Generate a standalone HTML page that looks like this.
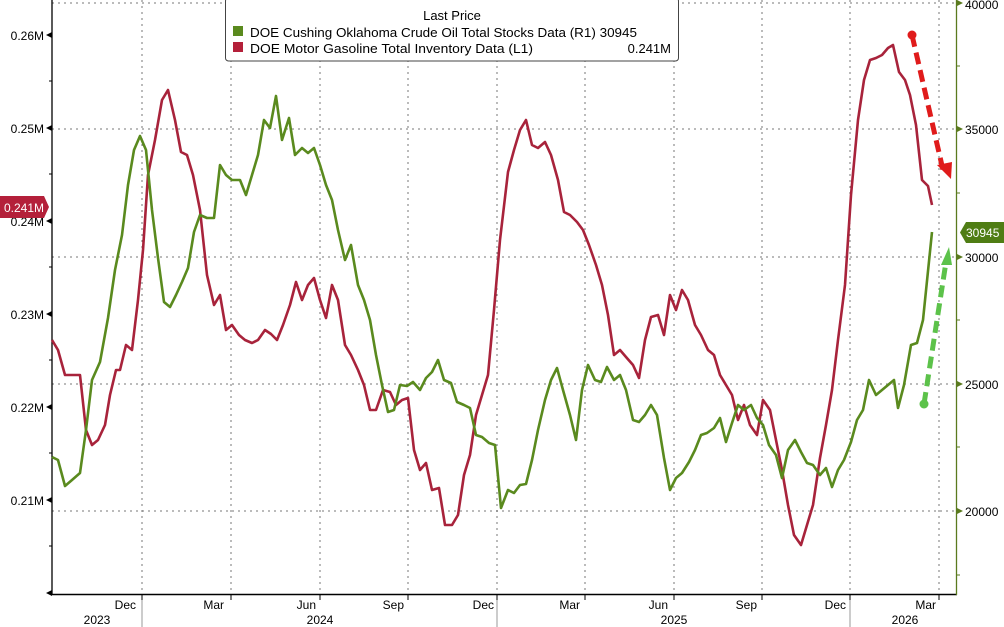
<!DOCTYPE html>
<html><head><meta charset="utf-8"><style>
html,body{margin:0;padding:0;background:#fff;}
svg{display:block;font-family:"Liberation Sans",sans-serif;}
</style></head><body>
<svg width="1004" height="627" viewBox="0 0 1004 627" xmlns="http://www.w3.org/2000/svg">
<rect width="1004" height="627" fill="#fff"/>
<g stroke="#777" stroke-width="1" stroke-dasharray="2,4">
<line x1="52" y1="3" x2="956" y2="3"/>
<line x1="52" y1="129" x2="956" y2="129"/>
<line x1="52" y1="257" x2="956" y2="257"/>
<line x1="52" y1="384" x2="956" y2="384"/>
<line x1="52" y1="511" x2="956" y2="511"/>
<line x1="142" y1="0" x2="142" y2="594"/><line x1="231" y1="0" x2="231" y2="594"/>
<line x1="320" y1="0" x2="320" y2="594"/><line x1="408" y1="0" x2="408" y2="594"/>
<line x1="497" y1="0" x2="497" y2="594"/><line x1="585" y1="0" x2="585" y2="594"/>
<line x1="674" y1="0" x2="674" y2="594"/><line x1="762" y1="0" x2="762" y2="594"/>
<line x1="850" y1="0" x2="850" y2="594"/><line x1="939" y1="0" x2="939" y2="594"/>
</g>
<line x1="52" y1="0" x2="52" y2="595" stroke="#000" stroke-width="1.3"/>
<line x1="52" y1="594.5" x2="957" y2="594.5" stroke="#000" stroke-width="1.5"/>
<line x1="956.5" y1="0" x2="956.5" y2="595" stroke="#5a7a1e" stroke-width="1.3"/>
<g fill="#000" font-size="12">
<path d="M46,35 l6,-3 v6z"/><text x="44" y="40" text-anchor="end">0.26M</text>
<path d="M46,128 l6,-3 v6z"/><text x="44" y="133" text-anchor="end">0.25M</text>
<path d="M46,221 l6,-3 v6z"/><text x="44" y="226" text-anchor="end">0.24M</text>
<path d="M46,314 l6,-3 v6z"/><text x="44" y="319" text-anchor="end">0.23M</text>
<path d="M46,407 l6,-3 v6z"/><text x="44" y="412" text-anchor="end">0.22M</text>
<path d="M46,500 l6,-3 v6z"/><text x="44" y="505" text-anchor="end">0.21M</text>
<path d="M46,593 l6,-3 v6z"/>
</g>
<g stroke="#000"><line x1="49" y1="81" x2="52" y2="81"/><line x1="49" y1="174" x2="52" y2="174"/><line x1="49" y1="267" x2="52" y2="267"/><line x1="49" y1="360" x2="52" y2="360"/><line x1="49" y1="453" x2="52" y2="453"/><line x1="49" y1="546" x2="52" y2="546"/></g>
<g fill="#5a7a1e"><path d="M963,3 l-6,-3 v6z"/><path d="M963,129 l-6,-3 v6z"/><path d="M963,257 l-6,-3 v6z"/><path d="M963,384 l-6,-3 v6z"/><path d="M963,511 l-6,-3 v6z"/></g>
<g stroke="#5a7a1e"><line x1="956" y1="66" x2="960" y2="66"/><line x1="956" y1="193" x2="960" y2="193"/><line x1="956" y1="320" x2="960" y2="320"/><line x1="956" y1="447" x2="960" y2="447"/><line x1="956" y1="575" x2="960" y2="575"/></g>
<g fill="#000" font-size="12">
<text x="965" y="9">40000</text><text x="965" y="134">35000</text><text x="965" y="262">30000</text>
<text x="965" y="389">25000</text><text x="965" y="516">20000</text>
</g>
<g stroke="#000"><line x1="142" y1="594" x2="142" y2="600"/><line x1="231" y1="594" x2="231" y2="600"/><line x1="320" y1="594" x2="320" y2="600"/><line x1="408" y1="594" x2="408" y2="600"/><line x1="497" y1="594" x2="497" y2="600"/><line x1="585" y1="594" x2="585" y2="600"/><line x1="674" y1="594" x2="674" y2="600"/><line x1="762" y1="594" x2="762" y2="600"/><line x1="850" y1="594" x2="850" y2="600"/><line x1="939" y1="594" x2="939" y2="600"/>
<line x1="142" y1="600" x2="142" y2="627" stroke="#999"/><line x1="497" y1="600" x2="497" y2="627" stroke="#999"/><line x1="850" y1="600" x2="850" y2="627" stroke="#999"/></g>
<g fill="#000" font-size="12" text-anchor="end">
<text x="136" y="609">Dec</text><text x="224" y="609">Mar</text><text x="316" y="609">Jun</text><text x="404" y="609">Sep</text><text x="494" y="609">Dec</text><text x="580" y="609">Mar</text><text x="668" y="609">Jun</text><text x="757" y="609">Sep</text><text x="846" y="609">Dec</text><text x="936" y="609">Mar</text>
</g>
<g fill="#000" font-size="12" text-anchor="middle">
<text x="97" y="624">2023</text><text x="320" y="624">2024</text><text x="674" y="624">2025</text><text x="905" y="624">2026</text>
</g>
<polyline fill="none" stroke="#a8233b" stroke-width="2.6" stroke-linejoin="round" points="52,340 58,350 65,375 72,375 80,375 86,430 92,445 98,440 105,425 110,395 116,370 120,370 126,345 132,350 138,300 143,250 148,175 155,140 162,100 168,90 175,120 181,152 187,155 193,175 200,210 207,275 214,305 220,295 226,330 232,325 239,335 245,340 252,343 258,340 265,330 271,334 277,340 283,325 290,305 296,282 302,300 308,285 314,278 320,300 326,318 332,285 338,300 345,345 351,355 358,370 364,385 370,410 376,410 383,390 390,392 396,405 402,400 408,398 414,450 420,470 426,463 432,490 439,488 445,525 452,525 458,515 464,475 470,455 476,415 482,395 488,375 494,310 500,240 508,172 514,150 520,130 526,120 532,145 538,148 545,142 551,155 558,180 564,212 570,215 577,222 583,230 589,245 596,265 602,285 608,315 614,355 620,350 626,357 633,365 639,378 645,340 651,317 658,315 664,335 670,295 676,310 682,290 688,300 695,325 701,335 708,350 714,355 720,375 726,385 732,395 738,420 744,405 750,425 757,435 763,400 770,410 776,440 782,470 788,505 794,535 801,545 807,525 813,505 820,458 826,425 832,390 838,340 845,285 851,195 858,120 864,80 870,60 876,58 882,55 888,48 893,45 899,72 905,80 910,95 916,125 922,180 928,186 932,205"/>
<polyline fill="none" stroke="#5a8a1e" stroke-width="2.6" stroke-linejoin="round" points="52,457 58,460 65,486 72,480 80,473 86,430 92,380 100,362 108,318 115,270 122,235 128,185 134,150 140,136 146,150 152,210 158,258 164,302 170,307 176,295 182,282 188,268 194,232 200,215 207,218 214,218 220,165 226,175 232,180 240,180 246,195 252,175 258,155 264,120 270,128 276,96 282,140 289,118 295,155 302,148 308,153 314,148 320,165 326,185 332,200 338,230 345,260 351,245 358,285 364,300 370,320 376,355 382,385 388,412 394,410 400,385 407,386 413,382 420,390 426,378 432,372 438,360 444,380 451,383 457,402 464,405 470,408 476,435 482,437 489,443 495,445 501,508 508,490 514,493 520,485 526,484 532,460 538,430 545,400 551,380 557,368 563,390 570,415 576,440 582,390 588,365 595,380 601,382 607,367 614,380 620,375 626,390 633,420 639,422 645,415 651,405 657,415 664,458 670,490 676,478 682,473 689,462 695,450 701,435 707,433 714,428 720,418 726,442 732,423 738,405 744,410 751,405 757,418 763,425 769,445 776,455 782,478 788,450 795,440 801,452 807,463 813,465 820,475 826,468 832,487 838,470 844,460 851,442 857,420 863,410 869,380 876,395 882,390 888,385 894,380 898,408 904,385 911,345 917,343 923,320 932,232"/>
<circle cx="912" cy="35" r="4.5" fill="#e01b1b"/>
<line x1="912" y1="35" x2="943" y2="170" stroke="#e01b1b" stroke-width="5" stroke-dasharray="12,6"/>
<path d="M937,165 L952,162 L951,179 Z" fill="#e01b1b"/>
<circle cx="924" cy="404" r="4.5" fill="#5cc24a"/>
<line x1="924" y1="404" x2="946" y2="262" stroke="#5cc24a" stroke-width="5" stroke-dasharray="12,6"/>
<path d="M941,265 L952,265 L949,247 Z" fill="#5cc24a"/>
<path d="M0,196 H44 L49,207 L44,218 H0Z" fill="#b4203a"/>
<text x="4" y="212" fill="#fff" font-size="12">0.241M</text>
<path d="M966,222 H1004 V243 H966 L960,232.5Z" fill="#4f7d14"/>
<text x="966" y="237" fill="#fff" font-size="12">30945</text>
<rect x="225.5" y="-2" width="453" height="63" rx="3" fill="#fff" stroke="#444"/>
<text x="452" y="20" font-size="13" text-anchor="middle" fill="#000">Last Price</text>
<rect x="233" y="26" width="10" height="10" fill="#5a8a1e"/>
<text x="250" y="37" font-size="13" fill="#000" textLength="387" lengthAdjust="spacingAndGlyphs">DOE Cushing Oklahoma Crude Oil Total Stocks Data  (R1) 30945</text>
<rect x="233" y="42" width="10" height="10" fill="#b4203a"/>
<text x="250" y="53" font-size="13" fill="#000" textLength="283" lengthAdjust="spacingAndGlyphs">DOE Motor Gasoline Total Inventory Data  (L1)</text>
<text x="671" y="53" font-size="13" fill="#000" text-anchor="end">0.241M</text>
</svg>
</body></html>
